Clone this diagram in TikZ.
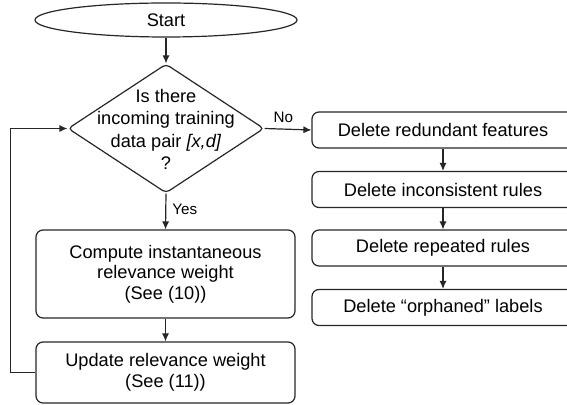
\documentclass[tikz,border=0pt]{standalone}
\usepackage{fontspec}
\setmainfont{Liberation Sans}
\usetikzlibrary{shapes.geometric,arrows.meta}

\tikzset{
  base/.style={draw=black!85, line width=0.6pt},
  procbox/.style={base, rectangle, rounded corners=3.5pt, inner sep=0pt,
    align=center, font=\fontsize{9.1}{10.25}\selectfont},
  terminal/.style={base, ellipse, inner sep=0pt, font=\fontsize{9.1}{10.25}\selectfont},
  decision/.style={base, diamond, rounded corners=2pt, inner sep=0pt},
  flowtext/.style={align=center, inner sep=0pt, font=\fontsize{9.1}{11.3}\selectfont},
  edgelabel/.style={inner sep=0pt, font=\fontsize{7.6}{9}\selectfont},
  flow/.style={draw=black!85, line width=0.6pt, -{Latex[length=4pt,width=3.6pt]}},
}

\begin{document}
\begin{tikzpicture}[x=0.5pt, y=-0.5pt]
  \useasboundingbox (0,0) rectangle (567,405);
  \clip (0,0) rectangle (567,405);

  % start terminal
  \node[terminal, minimum width=131pt, minimum height=17pt] (start) at (166,20) {Start};

  % decision diamond and its question
  \node[decision, minimum width=98pt, minimum height=64.5pt] (dec) at (166,128.5) {};
  \node[flowtext] (dectext) at (166,129.5)
    {Is there\\incoming training\\data pair \textit{[x,d]}\\?};

  % left column: relevance weight updates
  \node[procbox, minimum width=129.5pt, minimum height=44pt] (comp) at (165.5,274)
    {Compute instantaneous\\relevance weight\\(See (10))};
  \node[procbox, minimum width=129.5pt, minimum height=30.5pt] (upd) at (165.5,372.5)
    {Update relevance weight\\(See (11))};

  % right column: pruning steps
  \node[procbox, minimum width=131pt, minimum height=18pt] (r1) at (443,130)
    {Delete redundant features};
  \node[procbox, minimum width=131pt, minimum height=18pt] (r2) at (443,189.5)
    {Delete inconsistent rules};
  \node[procbox, minimum width=131pt, minimum height=18pt] (r3) at (443,248)
    {Delete repeated rules};
  \node[procbox, minimum width=131pt, minimum height=18pt] (r4) at (443,307.5)
    {Delete “orphaned” labels};

  % connectors
  \draw[flow] (start) -- (dec.north);
  \draw[flow] (dec.south) -- node[edgelabel, right=3pt, pos=0.45] (yes) {Yes} (comp.north);
  \draw[flow] (comp) -- (upd);
  \draw[flow] (upd.west) -- ++(-25,0) coordinate (loopcorner) |- (dec.west);
  \draw[flow] (dec.east) -- node[edgelabel, above=3pt, pos=0.4] (no) {No} (r1.west);
  \draw[flow] (r1) -- (r2);
  \draw[flow] (r2) -- (r3);
  \draw[flow] (r3) -- (r4);
\end{tikzpicture}
\end{document}
